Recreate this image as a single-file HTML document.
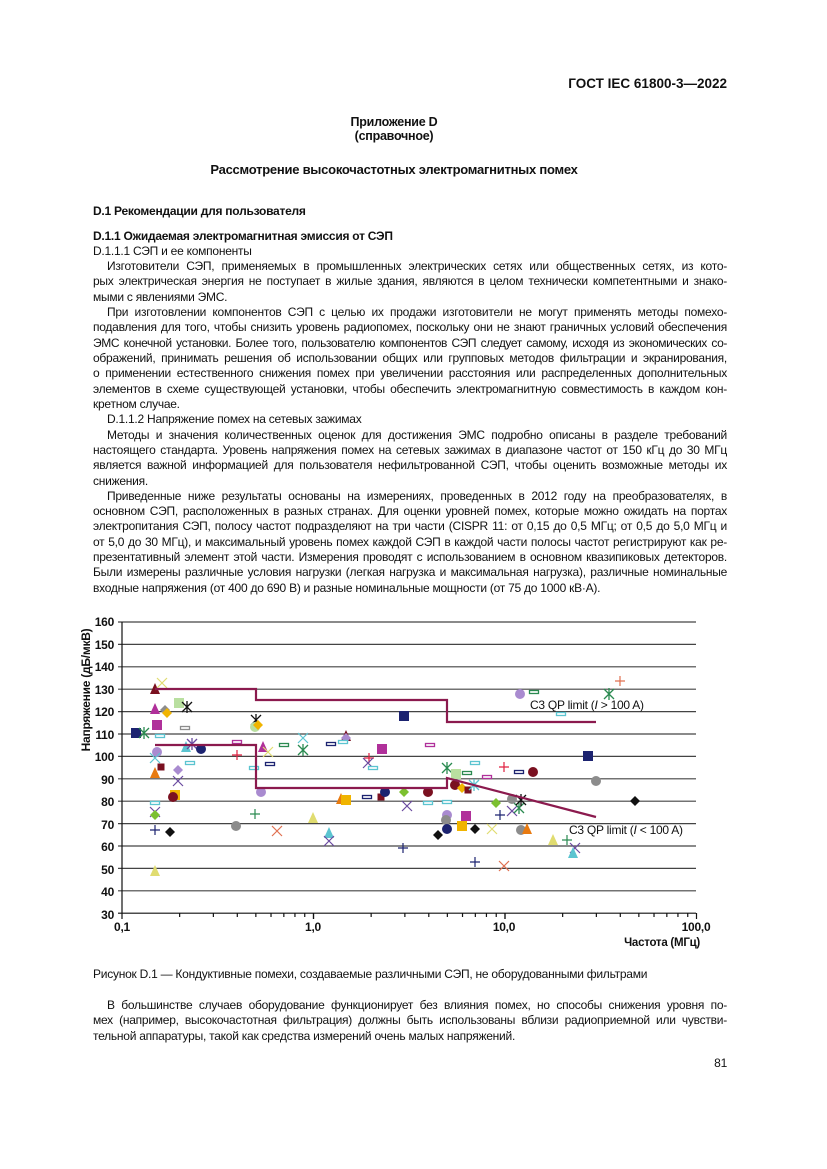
<!DOCTYPE html>
<html><head><meta charset="utf-8"><style>
body{margin:0;background:#fff;}
#pg{position:relative;width:827px;height:1169px;overflow:hidden;font-family:"Liberation Sans",Arial,sans-serif;color:#111;font-size:12px;letter-spacing:-0.25px;}
.l{position:absolute;white-space:nowrap;line-height:14px;}
.j{text-align:justify;text-align-last:justify;}
.b{font-weight:bold;}
.c{text-align:center;left:0;width:788px;}
</style></head><body><div id="pg">
<div class="l b" style="top:77px;right:100px;font-size:13.5px;letter-spacing:0;">ГОСТ IEC 61800-3—2022</div>
<div class="l b c" style="top:115px;font-size:12.5px;">Приложение D</div>
<div class="l b c" style="top:129px;font-size:12.5px;">(справочное)</div>
<div class="l b c" style="top:163px;font-size:13px;">Рассмотрение высокочастотных электромагнитных помех</div>
<div class="l b" style="top:204px;left:93px;">D.1 Рекомендации для пользователя</div>
<div class="l b" style="top:229px;left:93px;">D.1.1 Ожидаемая электромагнитная эмиссия от СЭП</div>
<div class="l" style="top:244px;left:93px;">D.1.1.1 СЭП и ее компоненты</div>
<div class="l j" style="top:259px;left:107px;width:620px;">Изготовители СЭП, применяемых в промышленных электрических сетях или общественных сетях, из кото-</div>
<div class="l j" style="top:274px;left:93px;width:634px;">рых электрическая энергия не поступает в жилые здания, являются в целом технически компетентными и знако-</div>
<div class="l" style="top:290px;left:93px;">мыми с явлениями ЭМС.</div>
<div class="l j" style="top:305px;left:107px;width:620px;">При изготовлении компонентов СЭП с целью их продажи изготовители не могут применять методы помехо-</div>
<div class="l j" style="top:320px;left:93px;width:634px;">подавления для того, чтобы снизить уровень радиопомех, поскольку они не знают граничных условий обеспечения</div>
<div class="l j" style="top:336px;left:93px;width:634px;letter-spacing:-0.4px;">ЭМС конечной установки. Более того, пользователю компонентов СЭП следует самому, исходя из экономических со-</div>
<div class="l j" style="top:351px;left:93px;width:634px;">ображений, принимать решения об использовании общих или групповых методов фильтрации и экранирования,</div>
<div class="l j" style="top:366px;left:93px;width:634px;">о применении естественного снижения помех при увеличении расстояния или распределенных дополнительных</div>
<div class="l j" style="top:382px;left:93px;width:634px;">элементов в схеме существующей установки, чтобы обеспечить электромагнитную совместимость в каждом кон-</div>
<div class="l" style="top:397px;left:93px;">кретном случае.</div>
<div class="l" style="top:412px;left:107px;">D.1.1.2 Напряжение помех на сетевых зажимах</div>
<div class="l j" style="top:428px;left:107px;width:620px;">Методы и значения количественных оценок для достижения ЭМС подробно описаны в разделе требований</div>
<div class="l j" style="top:443px;left:93px;width:634px;">настоящего стандарта. Уровень напряжения помех на сетевых зажимах в диапазоне частот от 150 кГц до 30 МГц</div>
<div class="l j" style="top:458px;left:93px;width:634px;">является важной информацией для пользователя нефильтрованной СЭП, чтобы оценить возможные методы их</div>
<div class="l" style="top:474px;left:93px;">снижения.</div>
<div class="l j" style="top:489px;left:107px;width:620px;">Приведенные ниже результаты основаны на измерениях, проведенных в 2012 году на преобразователях, в</div>
<div class="l j" style="top:504px;left:93px;width:634px;">основном СЭП, расположенных в разных странах. Для оценки уровней помех, которые можно ожидать на портах</div>
<div class="l j" style="top:519px;left:93px;width:634px;">электропитания СЭП, полосу частот подразделяют на три части (CISPR 11: от 0,15 до 0,5 МГц; от 0,5 до 5,0 МГц и</div>
<div class="l j" style="top:535px;left:93px;width:634px;">от 5,0 до 30 МГц), и максимальный уровень помех каждой СЭП в каждой части полосы частот регистрируют как ре-</div>
<div class="l j" style="top:550px;left:93px;width:634px;">презентативный элемент этой части. Измерения проводят с использованием в основном квазипиковых детекторов.</div>
<div class="l j" style="top:565px;left:93px;width:634px;">Были измерены различные условия нагрузки (легкая нагрузка и максимальная нагрузка), различные номинальные</div>
<div class="l" style="top:581px;left:93px;">входные напряжения (от 400 до 690 В) и разные номинальные мощности (от 75 до 1000 кВ·А).</div>

<svg style="position:absolute;left:0;top:0" width="827" height="1169" id="ch">
<g stroke="#333" stroke-width="1.2" id="grid"></g>
<g font-family="Liberation Sans,Arial,sans-serif" font-size="12" font-weight="bold" fill="#111">
<text x="114" y="626" text-anchor="end">160</text><text x="114" y="649" text-anchor="end">150</text><text x="114" y="671" text-anchor="end">140</text><text x="114" y="694" text-anchor="end">130</text><text x="114" y="716" text-anchor="end">120</text><text x="114" y="739" text-anchor="end">110</text><text x="114" y="761" text-anchor="end">100</text><text x="114" y="784" text-anchor="end">90</text><text x="114" y="806" text-anchor="end">80</text><text x="114" y="829" text-anchor="end">70</text><text x="114" y="851" text-anchor="end">60</text><text x="114" y="874" text-anchor="end">50</text><text x="114" y="896" text-anchor="end">40</text><text x="114" y="919" text-anchor="end">30</text>
<text x="122" y="931" text-anchor="middle">0,1</text><text x="313" y="931" text-anchor="middle">1,0</text><text x="504" y="931" text-anchor="middle">10,0</text><text x="696" y="931" text-anchor="middle">100,0</text>
<text x="700" y="946" text-anchor="end" font-size="11.5">Частота (МГц)</text>
<text transform="translate(90,690) rotate(-90)" text-anchor="middle" font-size="12">Напряжение (дБ/мкВ)</text>
<text x="530" y="709" font-weight="normal" font-size="12">C3 QP limit (<tspan font-style="italic">I</tspan> &gt; 100 A)</text>
<text x="569" y="834" font-weight="normal" font-size="12">C3 QP limit (<tspan font-style="italic">I</tspan> &lt; 100 A)</text>
</g>
<g id="mk"></g>
<g fill="none" stroke="#8b1a4e" stroke-width="2.2">
<polyline points="155,689 256,689 256,700 447,700 447,722 596,722"/>
<polyline points="155,745 256,745 256,788 447,788 447,778 596,817"/>
</g>
</svg>

<div class="l" style="top:967px;left:93px;">Рисунок D.1 — Кондуктивные помехи, создаваемые различными СЭП, не оборудованными фильтрами</div>
<div class="l j" style="top:998px;left:107px;width:620px;">В большинстве случаев оборудование функционирует без влияния помех, но способы снижения уровня по-</div>
<div class="l j" style="top:1013px;left:93px;width:634px;">мех (например, высокочастотная фильтрация) должны быть использованы вблизи радиоприемной или чувстви-</div>
<div class="l" style="top:1029px;left:93px;">тельной аппаратуры, такой как средства измерений очень малых напряжений.</div>
<div class="l" style="top:1056px;right:100px;">81</div>
</div>
<script>
var NS="http://www.w3.org/2000/svg";
function el(p,t,a){var e=document.createElementNS(NS,t);for(var k in a)e.setAttribute(k,a[k]);p.appendChild(e);return e;}
var g=document.getElementById('grid');
for(var i=0;i<=13;i++){var y=622+i*22.4;el(g,'line',{x1:118,x2:696,y1:y,y2:y,stroke:i==13?'#111':'#444'});}
el(g,'line',{x1:122,x2:122,y1:622,y2:913,stroke:'#111'});
for(var d=0;d<3;d++)for(var k=1;k<=10;k++){var x=122+191.5*(d+Math.log10(k));el(g,'line',{x1:x,x2:x,y1:913,y2:k==1||k==10?919:917,stroke:'#111'});}
var C={n:'#1c2370',r:'#7a1020',m:'#b0309a',l:'#a98bd0',c:'#5bc4d0',o:'#e87a10',y:'#f0b400',g:'#b9dfa0',w:'#e0dc70',G:'#7cc030',a:'#8c8c8c',k:'#111',p:'#6a4aa0',e:'#2a8a50',R:'#e02040',O:'#e07050'};
var M=[[155,689,'t','r'],[162,683,'x','w'],[155,709,'t','m'],[165,710,'d','a'],[167,713,'d','y'],[179,703,'s','g'],[187,707,'a','k'],[136,733,'s','n'],[144,733,'a','e'],[157,725,'s','m'],[160,736,'-','c'],[185,728,'-','a'],[157,752,'c','l'],[186,747,'t','c'],[192,744,'a','p'],[201,749,'c','n'],[155,758,'x','c'],[161,767,'r','r'],[155,773,'t','o'],[178,770,'d','l'],[190,763,'-','c'],[178,781,'x','p'],[175,795,'s','y'],[173,797,'c','r'],[155,803,'-','c'],[155,812,'x','p'],[155,815,'d','G'],[155,830,'p','n'],[170,832,'d','k'],[155,871,'t','w'],[236,826,'c','a'],[255,814,'p','e'],[237,742,'-','m'],[237,755,'p','R'],[256,720,'a','k'],[255,727,'c','g'],[258,725,'d','y'],[263,747,'t','m'],[268,752,'x','w'],[254,768,'-','c'],[270,764,'-','n'],[261,792,'c','l'],[277,831,'x','O'],[284,745,'-','e'],[303,738,'x','c'],[303,750,'a','e'],[313,818,'t','w'],[329,833,'t','c'],[329,841,'x','p'],[331,744,'-','n'],[346,736,'t','r'],[346,738,'d','l'],[343,742,'-','c'],[382,749,'s','m'],[369,758,'p','R'],[368,763,'x','p'],[373,768,'-','c'],[341,799,'t','o'],[346,800,'s','y'],[367,797,'-','n'],[381,797,'r','r'],[385,792,'c','n'],[404,716,'s','n'],[430,745,'-','m'],[404,792,'d','G'],[428,792,'c','r'],[407,806,'x','p'],[428,803,'-','c'],[447,802,'-','c'],[447,768,'a','e'],[456,774,'s','g'],[467,773,'-','e'],[455,785,'c','r'],[462,788,'d','y'],[468,790,'r','r'],[474,785,'a','c'],[475,763,'-','c'],[504,767,'p','R'],[519,772,'-','n'],[533,772,'c','r'],[487,777,'-','m'],[447,815,'c','l'],[446,820,'c','a'],[447,829,'c','n'],[466,816,'s','m'],[462,826,'s','y'],[475,829,'d','k'],[438,835,'d','k'],[492,829,'x','w'],[496,803,'d','G'],[500,815,'p','n'],[512,811,'x','p'],[519,808,'a','e'],[521,800,'a','k'],[512,799,'c','a'],[403,848,'p','n'],[475,862,'p','n'],[504,866,'x','O'],[521,830,'c','a'],[527,829,'t','o'],[553,840,'t','w'],[567,840,'p','e'],[575,848,'x','p'],[573,853,'t','c'],[520,694,'c','l'],[534,692,'-','e'],[561,714,'-','c'],[609,694,'a','e'],[620,681,'p','O'],[588,756,'s','n'],[596,781,'c','a'],[635,801,'d','k']];
var mk=document.getElementById('mk');
M.forEach(function(m){var x=m[0],y=m[1],c=C[m[3]];
switch(m[2]){
case's':el(mk,'rect',{x:x-5,y:y-5,width:10,height:10,fill:c});break;
case'r':el(mk,'rect',{x:x-3.5,y:y-3.5,width:7,height:7,fill:c});break;
case'c':el(mk,'circle',{cx:x,cy:y,r:5,fill:c});break;
case't':el(mk,'polygon',{points:(x-5)+','+(y+5)+' '+(x+5)+','+(y+5)+' '+x+','+(y-6),fill:c});break;
case'd':el(mk,'polygon',{points:(x-5)+','+y+' '+x+','+(y-5)+' '+(x+5)+','+y+' '+x+','+(y+5),fill:c});break;
case'x':el(mk,'path',{d:'M'+(x-5)+' '+(y-5)+'L'+(x+5)+' '+(y+5)+'M'+(x+5)+' '+(y-5)+'L'+(x-5)+' '+(y+5),stroke:c,'stroke-width':1.2});break;
case'p':el(mk,'path',{d:'M'+(x-5)+' '+y+'L'+(x+5)+' '+y+'M'+x+' '+(y-5)+'L'+x+' '+(y+5),stroke:c,'stroke-width':1.2});break;
case'a':el(mk,'path',{d:'M'+(x-5)+' '+(y-5)+'L'+(x+5)+' '+(y+5)+'M'+(x+5)+' '+(y-5)+'L'+(x-5)+' '+(y+5)+'M'+x+' '+(y-6)+'L'+x+' '+(y+6),stroke:c,'stroke-width':1.3});break;
case'-':el(mk,'rect',{x:x-4.5,y:y-1.5,width:9,height:3,fill:'#fff',stroke:c,'stroke-width':1.3});break;}
});
</script>
</body></html>
